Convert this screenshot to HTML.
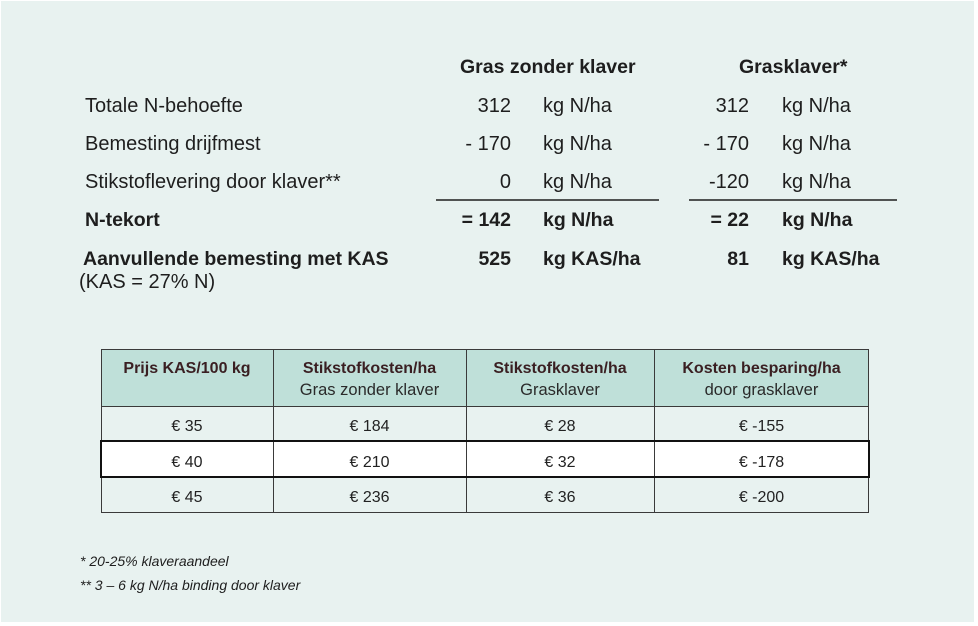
<!DOCTYPE html>
<html><head><meta charset="utf-8"><style>
html,body{margin:0;padding:0;background:#fff;}
svg{display:block;}
text{font-family:"Liberation Sans",Arial,sans-serif;}
</style></head><body>
<svg width="978" height="626" viewBox="0 0 978 626" xmlns="http://www.w3.org/2000/svg">
<rect x="0" y="0" width="978" height="626" fill="#ffffff"/>
<rect x="1" y="1" width="973" height="621" fill="#e8f2f0"/>

<g fill="#1e1e1e" font-size="20">
  <text x="460" y="73" font-weight="bold" font-size="19.5">Gras zonder klaver</text>
  <text x="739" y="73" font-weight="bold" font-size="19.5">Grasklaver*</text>

  <text x="85" y="112">Totale N-behoefte</text>
  <text x="85" y="150">Bemesting drijfmest</text>
  <text x="85" y="188">Stikstoflevering door klaver**</text>
  <text x="85" y="226" font-weight="bold" font-size="19.5">N-tekort</text>
  <text x="83" y="265" font-weight="bold" font-size="19.5">Aanvullende bemesting met KAS</text>
  <text x="79" y="288">(KAS = 27% N)</text>

  <g text-anchor="end">
    <text x="511" y="112">312</text>
    <text x="511" y="150">- 170</text>
    <text x="511" y="188">0</text>
    <text x="511" y="226" font-weight="bold" font-size="19.5">= 142</text>
    <text x="511" y="265" font-weight="bold" font-size="19.5">525</text>
    <text x="749" y="112">312</text>
    <text x="749" y="150">- 170</text>
    <text x="749" y="188">-120</text>
    <text x="749" y="226" font-weight="bold" font-size="19.5">= 22</text>
    <text x="749" y="265" font-weight="bold" font-size="19.5">81</text>
  </g>
  <text x="543" y="112">kg N/ha</text>
  <text x="543" y="150">kg N/ha</text>
  <text x="543" y="188">kg N/ha</text>
  <text x="543" y="226" font-weight="bold" font-size="19.5">kg N/ha</text>
  <text x="543" y="265" font-weight="bold" font-size="19.5">kg KAS/ha</text>
  <text x="782" y="112">kg N/ha</text>
  <text x="782" y="150">kg N/ha</text>
  <text x="782" y="188">kg N/ha</text>
  <text x="782" y="226" font-weight="bold" font-size="19.5">kg N/ha</text>
  <text x="782" y="265" font-weight="bold" font-size="19.5">kg KAS/ha</text>
</g>
<line x1="436" y1="200" x2="659" y2="200" stroke="#1e1e1e" stroke-width="1.5"/>
<line x1="689" y1="200" x2="897" y2="200" stroke="#1e1e1e" stroke-width="1.5"/>

<!-- table -->
<rect x="101.5" y="349.5" width="767" height="57" fill="#bfe0d9"/>
<rect x="101.5" y="406.5" width="767" height="106" fill="#e8f2f0" stroke="#3a3a3a" stroke-width="1"/>
<rect x="101.5" y="349.5" width="767" height="163" fill="none" stroke="#3a3a3a" stroke-width="1"/>
<line x1="101" y1="406.5" x2="869" y2="406.5" stroke="#3a3a3a" stroke-width="1"/>
<line x1="273.5" y1="349" x2="273.5" y2="513" stroke="#3a3a3a" stroke-width="1"/>
<line x1="466.5" y1="349" x2="466.5" y2="513" stroke="#3a3a3a" stroke-width="1"/>
<line x1="654.5" y1="349" x2="654.5" y2="513" stroke="#3a3a3a" stroke-width="1"/>
<rect x="101" y="441" width="768" height="36" fill="#ffffff" stroke="#111" stroke-width="2"/>
<line x1="273.5" y1="442" x2="273.5" y2="476" stroke="#3a3a3a" stroke-width="1"/>
<line x1="466.5" y1="442" x2="466.5" y2="476" stroke="#3a3a3a" stroke-width="1"/>
<line x1="654.5" y1="442" x2="654.5" y2="476" stroke="#3a3a3a" stroke-width="1"/>

<g text-anchor="middle" font-size="16">
  <g fill="#3a1f22" font-weight="bold">
    <text x="187" y="373">Prijs KAS/100 kg</text>
    <text x="369.5" y="373">Stikstofkosten/ha</text>
    <text x="560" y="373">Stikstofkosten/ha</text>
    <text x="761.5" y="373">Kosten besparing/ha</text>
  </g>
  <g fill="#2a2a2a" font-size="16.5">
    <text x="369.5" y="395">Gras zonder klaver</text>
    <text x="560" y="395">Grasklaver</text>
    <text x="761.5" y="395">door grasklaver</text>
  </g>
  <g fill="#222">
    <text x="187" y="431">€ 35</text>
    <text x="369.5" y="431">€ 184</text>
    <text x="560" y="431">€ 28</text>
    <text x="761.5" y="431">€ -155</text>
    <text x="187" y="467">€ 40</text>
    <text x="369.5" y="467">€ 210</text>
    <text x="560" y="467">€ 32</text>
    <text x="761.5" y="467">€ -178</text>
    <text x="187" y="502">€ 45</text>
    <text x="369.5" y="502">€ 236</text>
    <text x="560" y="502">€ 36</text>
    <text x="761.5" y="502">€ -200</text>
  </g>
</g>

<g fill="#1e1e1e" font-size="14" font-style="italic">
  <text x="80" y="566">* 20-25% klaveraandeel</text>
  <text x="80" y="590">** 3 – 6 kg N/ha binding door klaver</text>
</g>
</svg>
</body></html>
